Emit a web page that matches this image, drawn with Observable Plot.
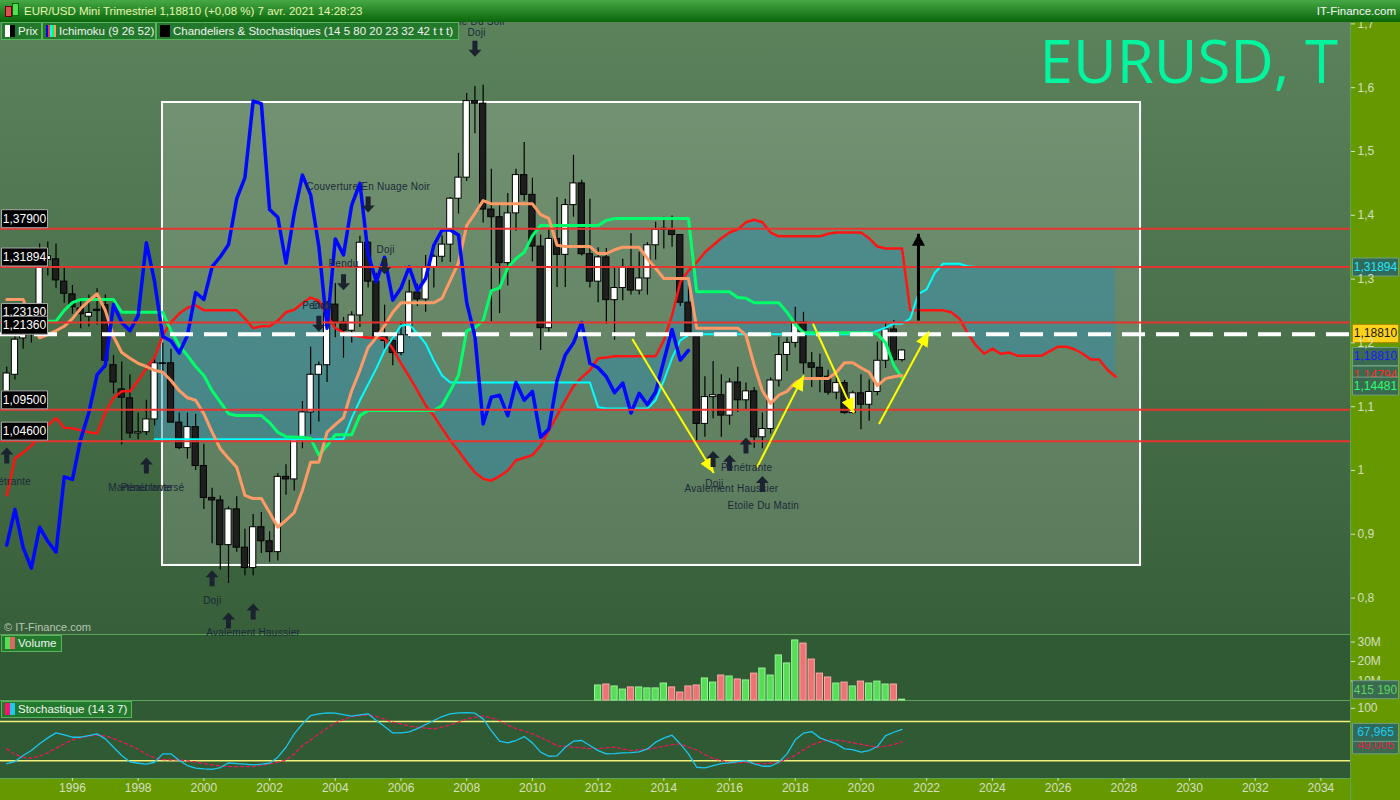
<!DOCTYPE html>
<html><head><meta charset="utf-8">
<script src="https://cdn.jsdelivr.net/npm/d3@7"></script>
<script src="https://cdn.jsdelivr.net/npm/@observablehq/plot@0.6"></script>
<style>
body{margin:0;background:#2f5a33;}
#wrap{position:relative;width:1400px;height:800px;overflow:hidden;font-family:"Liberation Sans",Arial,sans-serif;}
.abs{position:absolute;}
#mainbg{left:0;top:22px;width:1350px;height:612px;background:linear-gradient(#5c825c,#375f39);}
#volbg{left:0;top:634px;width:1350px;height:66px;background:#2f5a33;border-top:1px solid #5aa55a;box-sizing:border-box;}
#stbg{left:0;top:700px;width:1350px;height:78px;background:#2f5a33;border-top:1px solid #5aa55a;box-sizing:border-box;}
#rstrip{left:1350px;top:22px;width:50px;height:778px;background:#669900;border-left:1px solid #5aa55a;box-sizing:border-box;}
#bstrip{left:0;top:778px;width:1350px;height:22px;background:#669900;border-top:1px solid #5aa55a;box-sizing:border-box;}
#header{left:0;top:0;width:1400px;height:22px;background:linear-gradient(#45a845,#0a660a);color:#e6f5ae;font-size:11.5px;line-height:22px;}
.box{position:absolute;height:17px;background:#23792b;border:1px solid #5cb35f;box-sizing:border-box;color:#f2f2f2;font-size:11.5px;line-height:15px;white-space:nowrap;padding-left:3px;overflow:hidden;}
.ic{display:inline-block;width:5px;height:12px;vertical-align:-2px;}
#big{right:62px;top:30px;font-family:"Open Sans",sans-serif;font-size:60px;line-height:60px;color:#00f59e;white-space:nowrap;}
.plot{position:absolute;left:0;}
g[fill="#1c2839"] text{letter-spacing:0.25px;}
</style></head>
<body><div id="wrap">
<div id="mainbg" class="abs"></div>
<div id="volbg" class="abs"></div>
<div id="stbg" class="abs"></div>
<div id="rstrip" class="abs"></div>
<div id="bstrip" class="abs"></div>
<div id="big" class="abs">EURUSD, T</div>
<div id="main" class="plot" style="top:22px"></div>
<div id="vol" class="plot" style="top:634px"></div>
<div id="sto" class="plot" style="top:700px"></div>
<div id="header" class="abs">
  <span class="abs" style="left:5px;top:6px;width:5px;height:9px;background:#e05050;border:1px solid #600"></span>
  <span class="abs" style="left:12px;top:3px;width:5px;height:11px;background:#50e050;border:1px solid #060"></span>
  <span class="abs" style="left:24px;top:0">EUR/USD Mini Trimestriel 1,18810 (+0,08 %) 7 avr. 2021 14:28:23</span>
  <span class="abs" style="right:4px;top:0;color:#f5f5f5">IT-Finance.com</span>
</div>
<div class="box" style="left:1px;top:22px;width:41px;height:18px;line-height:16px"><span class="ic" style="background:#fff"></span><span class="ic" style="background:#000;margin-right:3px"></span>Prix</div>
<div class="box" style="left:42px;top:22px;width:114px;height:18px;line-height:16px"><span class="ic" style="width:2px;background:#00f"></span><span class="ic" style="width:2px;background:#f33"></span><span class="ic" style="width:2px;background:#0ff"></span><span class="ic" style="width:2px;background:#0f6"></span><span class="ic" style="width:2px;background:#f96;margin-right:3px"></span>Ichimoku (9 26 52)</div>
<div class="box" style="left:156px;top:22px;width:303px;height:18px;line-height:16px"><span class="ic" style="width:10px;background:#000;margin-right:3px"></span>Chandeliers &amp; Stochastiques (14 5 80 20 23 32 42 t t t)</div>
<div class="abs" style="left:4px;top:621px;color:#b8c6b4;font-size:11px">© IT-Finance.com</div>
<div class="box" style="left:1px;top:635px;width:61px"><span class="ic" style="background:#55dd55"></span><span class="ic" style="background:#e06666;margin-right:3px"></span>Volume</div>
<div class="box" style="left:1px;top:701px;width:131px"><span class="ic" style="background:#ff1070"></span><span class="ic" style="background:#20c8f0;margin-right:3px"></span>Stochastique (14 3 7)</div>
</div>
<script>
// ---------- DATA (quarterly, first quarter = 1994 Q1) ----------
const firstYear = 1994;
const open = [
1.122,1.150,1.207,1.216, 1.226,1.330,1.331,1.296, 1.276,1.254,1.241,1.252, 1.259,1.165,1.127,1.113,
1.058,1.060,1.080,1.168, 1.168,1.075,1.035,1.068, 1.007,0.957,0.953,0.883, 0.939,0.879,0.847,0.911,
0.889,0.872,0.990,0.986, 1.049,1.091,1.150,1.165, 1.260,1.232,1.219,1.243, 1.357,1.296,1.210,1.203,
1.184,1.212,1.279,1.268, 1.319,1.335,1.354,1.426, 1.459,1.579,1.575,1.409, 1.397,1.325,1.403,1.463,
1.432,1.351,1.223,1.363, 1.338,1.416,1.450,1.339, 1.296,1.334,1.267,1.286, 1.319,1.282,1.301,1.353,
1.377,1.377,1.369,1.263, 1.210,1.073,1.115,1.118, 1.086,1.138,1.110,1.124, 1.052,1.065,1.141,1.181,
1.200,1.232,1.168,1.161, 1.147,1.122,1.137,1.090, 1.121,1.103,1.123,1.172, 1.221,1.173];
const high = [
1.162,1.215,1.245,1.250, 1.355,1.358,1.355,1.318, 1.290,1.270,1.275,1.285, 1.275,1.180,1.170,1.150,
1.090,1.110,1.180,1.200, 1.190,1.090,1.090,1.088, 1.041,0.972,0.960,0.943, 0.959,0.908,0.931,0.934,
0.904,0.995,1.009,1.050, 1.108,1.193,1.170,1.265, 1.293,1.240,1.249,1.367, 1.359,1.309,1.259,1.215,
1.233,1.298,1.292,1.337, 1.338,1.368,1.428,1.497, 1.591,1.602,1.604,1.472, 1.415,1.434,1.472,1.514,
1.458,1.369,1.379,1.428, 1.425,1.494,1.455,1.425, 1.349,1.348,1.317,1.331, 1.371,1.342,1.357,1.389,
1.397,1.399,1.370,1.290, 1.210,1.147,1.171,1.150, 1.144,1.162,1.137,1.130, 1.090,1.145,1.209,1.208,
1.256,1.248,1.185,1.182, 1.157,1.145,1.141,1.124, 1.150,1.142,1.201,1.231, 1.235,1.189];
const low = [
1.112,1.142,1.190,1.200, 1.210,1.305,1.285,1.262, 1.245,1.222,1.225,1.228, 1.160,1.120,1.040,1.050,
1.048,1.055,1.070,1.150, 1.075,1.033,1.018,1.000, 0.939,0.885,0.844,0.823, 0.872,0.835,0.835,0.870,
0.856,0.858,0.961,0.968, 1.034,1.056,1.076,1.138, 1.208,1.176,1.200,1.224, 1.286,1.204,1.187,1.164,
1.180,1.208,1.257,1.248, 1.286,1.326,1.326,1.402, 1.453,1.528,1.388,1.233, 1.246,1.289,1.375,1.422,
1.327,1.188,1.217,1.287, 1.287,1.397,1.336,1.286, 1.263,1.229,1.204,1.266, 1.275,1.275,1.275,1.330,
1.347,1.350,1.257,1.210, 1.046,1.052,1.081,1.052, 1.071,1.091,1.095,1.035, 1.034,1.057,1.131,1.155,
1.192,1.151,1.130,1.122, 1.118,1.111,1.088,1.088, 1.064,1.077,1.117,1.160, 1.170,1.170];
const close = [
1.152,1.205,1.216,1.226, 1.330,1.336,1.298,1.277, 1.256,1.245,1.247,1.250, 1.172,1.138,1.114,1.058,
1.060,1.080,1.168,1.167, 1.075,1.035,1.068,1.007, 0.957,0.953,0.883,0.939, 0.879,0.847,0.911,0.889,
0.872,0.990,0.986,1.049, 1.091,1.150,1.165,1.260, 1.232,1.219,1.243,1.357, 1.296,1.210,1.203,1.184,
1.212,1.279,1.268,1.319, 1.335,1.354,1.426,1.459, 1.579,1.575,1.409,1.397, 1.325,1.403,1.463,1.432,
1.351,1.223,1.363,1.338, 1.416,1.450,1.339,1.296, 1.334,1.267,1.286,1.319, 1.282,1.301,1.353,1.377,
1.377,1.369,1.263,1.210, 1.073,1.115,1.118,1.086, 1.138,1.110,1.124,1.052, 1.065,1.141,1.181,1.200,
1.232,1.168,1.161,1.147, 1.122,1.137,1.090,1.121, 1.103,1.123,1.172,1.221, 1.173,1.1881];

// Ichimoku (9 26 52)
const tenkan = [
1.268,1.268,1.268,1.235,1.208,1.213,1.219,1.226,1.238,1.254,
1.266,1.277,1.251,1.210,1.185,1.176,1.168,1.163,1.157,1.154,
1.141,1.125,1.114,1.110,1.089,1.060,1.034,1.019,1.005,0.961,
0.956,0.956,0.934,0.911,0.922,0.934,0.969,1.013,1.013,1.060,
1.072,1.083,1.125,1.157,1.193,1.208,1.227,1.248,1.263,1.263,
1.263,1.263,1.263,1.270,1.298,1.326,1.384,1.403,1.423,1.418,
1.418,1.418,1.418,1.418,1.418,1.401,1.395,1.353,1.351,1.351,
1.351,1.351,1.340,1.340,1.346,1.350,1.350,1.350,1.332,1.317,
1.301,1.301,1.301,1.301,1.223,1.223,1.223,1.223,1.223,1.223,
1.212,1.165,1.125,1.105,1.118,1.124,1.138,1.144,1.144,1.144,
1.144,1.154,1.169,1.169,1.161,1.154,1.133,1.144,1.147,1.149];
const kijun = [
1.234,1.234,1.234,1.234,1.234,1.234,1.234,1.251,1.263,1.268,
1.268,1.268,1.268,1.268,1.248,1.248,1.248,1.248,1.248,1.248,
1.219,1.196,1.180,1.163,1.149,1.125,1.107,1.089,1.086,1.086,
1.086,1.086,1.075,1.060,1.053,1.052,1.052,1.050,1.024,1.039,
1.056,1.056,1.056,1.086,1.094,1.094,1.094,1.094,1.094,1.094,
1.094,1.094,1.094,1.102,1.125,1.149,1.219,1.224,1.235,1.282,
1.286,1.318,1.332,1.342,1.368,1.384,1.384,1.384,1.384,1.384,
1.384,1.384,1.384,1.392,1.395,1.395,1.395,1.395,1.395,1.395,
1.395,1.395,1.395,1.395,1.280,1.280,1.280,1.280,1.280,1.271,
1.270,1.263,1.263,1.263,1.263,1.248,1.229,1.216,1.216,1.216,
1.216,1.216,1.216,1.216,1.216,1.216,1.214,1.200,1.165,1.145];
const senkouA = [
0.961,1.019,1.028,1.039,1.055,1.071,1.082,1.067,1.066,1.063,
1.060,1.058,1.091,1.114,1.124,1.124,1.141,1.160,1.177,1.212,
1.232,1.246,1.255,1.259,1.251,1.251,1.251,1.251,1.251,1.238,
1.223,1.226,1.226,1.235,1.248,1.252,1.262,1.271,1.266,1.243,
1.223,1.216,1.212,1.210,1.208,1.208,1.207,1.191,1.168,1.147,
1.125,1.102,1.086,1.066,1.047,1.031,1.013,0.997,0.987,0.984,
0.991,1.000,1.016,1.020,1.024,1.039,1.063,1.086,1.110,1.132,
1.146,1.157,1.176,1.177,1.179,1.179,1.179,1.179,1.179,1.179,
1.204,1.243,1.295,1.313,1.326,1.342,1.353,1.364,1.373,1.378,
1.389,1.393,1.389,1.373,1.367,1.367,1.367,1.367,1.367,1.367,
1.371,1.373,1.373,1.373,1.373,1.364,1.351,1.348,1.348,1.348,
1.251,1.251,1.251,1.251,1.251,1.248,1.238,1.215,1.196,1.183,
1.191,1.183,1.185,1.180,1.180,1.180,1.180,1.187,1.194,1.194,
1.190,1.183,1.174,1.174,1.158,1.147];
const senkouBStart = 18; // first quarter index where Senkou B is visible
const senkouB = [
1.049,1.049,1.049,1.049,1.049,1.049,1.049,1.049,1.049,1.049,1.049,1.049,
1.049,1.049,1.049,1.049,1.049,1.049,1.049,1.049,1.049,1.049,1.049,1.049,
1.082,1.110,1.135,1.160,1.188,1.208,1.227,1.229,1.215,1.199,1.172,1.149,
1.138,1.138,1.138,1.138,1.138,1.138,1.138,1.138,1.138,1.138,1.138,1.138,1.138,1.138,1.138,1.138,1.138,1.138,
1.099,1.097,1.097,1.097,1.097,1.097,1.097,
1.110,1.141,1.176,1.204,1.212,1.213,
1.2135,1.2135,1.2135,1.2135,1.2135,1.2135,1.2135,1.2135,1.2135,1.2135,1.2135,
1.2135,1.2135,1.2135,1.2135,1.2135,1.2135,1.2135,1.2135,1.2135,1.2135,
1.219,1.224,1.230,1.230,1.238,1.277,1.284,1.310,1.324,1.324,1.324,1.320,
1.319,1.319,1.319,1.319,1.319,1.319,1.319,1.319,1.319,1.319,1.319,1.319,1.319,1.319,1.319,1.319,1.319,1.319];
const chikouLag = 26; // lagging span: closes drawn 26 quarters back

// Volume (millions), quarters 2012 Q1 .. 2021 Q2
const volumeStart = 72;
const volume = [
7.7,8.2,7.2,5.6,6.7,6.7,6.2,6.2,8.7,6.7,
4.1,7.2,7.7,11.3,9.2,12.8,12.3,10.8,10.3,13.8,
16.4,12.8,23.1,19.0,30.8,29.2,21.0,13.8,11.8,8.7,
9.2,7.2,9.7,8.7,9.7,8.2,8.2,0.415];

// Stochastic (14 3 7)
const stochK = [
15.8,18.9,28,35.7,45.9,55,62.6,59.6,56,56,
58.6,61.1,53.5,40.7,28,18.3,16.3,14.8,17.8,30.6,
30.6,20.4,12.8,8.7,7.7,7.1,9.7,16.8,15.8,14.8,
13.8,14.8,16.3,25.5,40.7,61.1,76.4,89.1,91.7,93.2,
92.7,90.6,88.1,90.1,91.7,81.5,72.3,62.6,62.6,64.2,
69.2,75.4,81.5,87.6,91.7,93.2,93.7,92.7,84,66.2,
49.9,47.4,51,57,47.4,33.2,27,27.5,40.7,49.9,
51,43.3,35.6,30.6,31.1,32.1,32.6,33.6,38.2,48.4,
54.5,59.1,45.8,30.6,10.2,9.2,12.7,15.8,16.8,18.9,
20.4,15.3,11.7,11.7,17.8,30.6,52,62.1,64.7,55,
50.4,45.8,38.2,37.2,33.2,35.7,41.8,58.6,63.6,67.965];
const stochD = [
38.2,29.5,25.5,24,27,32.6,39.2,45.8,52,55,
58,59.1,58,54,48.9,43.8,37.7,30,24.5,22,
21.4,21.4,19.9,18.3,15.8,13.8,12.3,11.2,11.2,11.2,
11.2,13.3,15.3,17.8,20.9,30.6,43.3,52,61.1,69.8,
77.9,83,87.6,89.1,90.1,87.6,83.5,78.9,76.4,73.3,
71.3,69.8,68.7,71.3,74.9,78.9,84,86.6,88.6,85.5,
81.5,74.3,69.2,65.7,61.1,55.5,49.9,42.8,42.3,40.7,
39.7,38.7,38.7,39.7,40.7,38.2,35.6,36.7,37.7,39.7,
42.3,44.8,45.8,40.7,36.7,29.5,23.4,20.4,17.3,16.8,
17.8,16.3,15.3,16.3,17.3,22.4,28.5,36.7,44.3,48.4,
52,51.4,49.9,47.4,45.3,42.8,40.7,42.3,44.8,49.005];

// Horizontal levels and labels
const levels = [1.379, 1.31894, 1.2319, 1.095, 1.046];
const levelTexts = ["1,37900","1,31894","1,23190","1,09500","1,04600"];
const dashLevel = 1.2136;
const dashText = "1,21360";
const priceTicks = [0.8,0.9,1,1.1,1.2,1.3,1.4,1.5,1.6,1.7];
const volumeTicks = [10e6,20e6,30e6];
const stochTicks = [100];
const stochBands = [80,20];
const yearTicks = [1996,1998,2000,2002,2004,2006,2008,2010,2012,2014,2016,2018,2020,2022,2024,2026,2028,2030,2032,2034];

// Right-axis value tags
const tagValues = [1.14794, 1.14481, 1.1881, 1.1881, 1.31894];
const tagTexts = ["1,14794","1,14481","1,18810","1,18810","1,31894"];
const volTag = [415190], volTagText = ["415 190"];
const stochTagValues = [49.005, 67.965], stochTagTexts = ["49,005","67,965"];

// Drawing annotations (time in years, price)
const zoneT = [1998.74, 2028.51], zoneP = [0.8511, 1.5768];
const yellowFromT = [2013.04, 2016.84, 2018.54, 2020.55];
const yellowFromP = [1.206, 1.005, 1.230, 1.073];
const yellowToT = [2015.52, 2018.26, 2019.78, 2022.07];
const yellowToP = [0.996, 1.149, 1.090, 1.218];
const blackArrowT = 2021.75, blackArrowP = [1.235, 1.371];
const upT = [1994.0, 1998.25, 2000.25, 2000.75, 2001.5, 2015.5, 2016.0, 2016.5, 2017.0];
const upP = [1.0235, 1.008, 0.831, 0.765, 0.779, 1.018, 1.012, 1.039, 0.979];
const downT = [2008.25, 2005.0, 2005.5, 2004.25, 2003.5];
const downP = [1.661, 1.417, 1.320, 1.295, 1.230];
const patternTexts = ["Etoile Du Soir","Doji","Couverture En Nuage Noir","Doji","Pendu","Pendu","Doji",
  "Pénétrante","Marteau Inversé","Pénétrante","Doji","Avalement Haussier",
  "Pénétrante","Doji","Avalement Haussier","Etoile Du Matin"];
const patternT = [2008.2,2008.3,2005.0,2005.53,2004.25,2003.45,2003.58,1993.96,1998.25,1998.25,2000.26,2001.5,2016.52,2015.54,2016.06,2017.03];
const patternP = [1.703,1.686,1.445,1.346,1.324,1.2586,1.2586,0.983,0.973,0.973,0.796,0.745,1.0036,0.9796,0.972,0.944];

// ---------- BUILD ----------
const tq = i => firstYear + i * 0.25;
const candles = open.map((o, i) => ({t: tq(i), o, h: high[i], l: low[i], c: close[i]}));
const upC = candles.filter(d => d.c >= d.o), dnC = candles.filter(d => d.c < d.o);
const series = (arr, start = 0) => arr.map((v, i) => ({t: tq(i + start), v}));
const tenkanD = series(tenkan), kijunD = series(kijun), saD = series(senkouA);
const sbD = series(senkouB, senkouBStart);
const chikouD = series(close.slice(chikouLag));
const cloud = sbD.map(d => ({t: d.t, a: senkouA[Math.round((d.t - firstYear) * 4)], b: d.v}));
const volD = volume.map((v, i) => ({t: tq(i + volumeStart), v: v * 1e6, up: close[i + volumeStart] >= open[i + volumeStart]}));
const xDomain = [1993.81, 2034.9];
const HW = 0.095; // half body width in years
const fmtC = d => String(d).replace(".", ",");
const axisColor = "#d3dec4";
const FONT = "Liberation Sans";

function tri(fill, len, wid) {
  return () => {
    const ns = "http://www.w3.org/2000/svg";
    const m = document.createElementNS(ns, "marker");
    m.setAttribute("viewBox", `${-len} ${-wid/2} ${len} ${wid}`);
    m.setAttribute("markerWidth", len); m.setAttribute("markerHeight", wid);
    m.setAttribute("markerUnits", "userSpaceOnUse");
    m.setAttribute("refX", 0); m.setAttribute("refY", 0);
    m.setAttribute("orient", "auto");
    const p = document.createElementNS(ns, "path");
    p.setAttribute("d", `M${-len},${-wid/2}L0,0L${-len},${wid/2}Z`);
    p.setAttribute("fill", fill); p.setAttribute("stroke", "none");
    m.appendChild(p);
    return m;
  };
}
const upSym = {draw(c){c.moveTo(0,-8);c.lineTo(6.5,-1);c.lineTo(2.5,-1);c.lineTo(2.5,8);c.lineTo(-2.5,8);c.lineTo(-2.5,-1);c.lineTo(-6.5,-1);c.closePath();}};
const downSym = {draw(c){c.moveTo(0,8);c.lineTo(6.5,1);c.lineTo(2.5,1);c.lineTo(2.5,-8);c.lineTo(-2.5,-8);c.lineTo(-2.5,1);c.lineTo(-6.5,1);c.closePath();}};
function tag(values, texts, {anchor, dx, dy = 0, w = 46, h = 18, fill, stroke, color, fontSize = 12}) {
  const data = values.map((v, i) => ({v, s: texts[i]}));
  const sym = {draw(c){c.rect(-w/2, -h/2, w, h);}};
  return [
    Plot.dot(data, {y: "v", frameAnchor: anchor, dx, dy, r: 5, symbol: sym, fill, stroke, strokeWidth: 1}),
    Plot.text(data, {y: "v", text: "s", frameAnchor: anchor, textAnchor: "middle", dx, dy, fill: color, fontSize})
  ];
}
const base = {width: 1400, marginLeft: 0, marginRight: 50, marginTop: 0,
  style: {background: "transparent", overflow: "visible", fontFamily: FONT}};

const tagStyle = [
  {dy: -1, fill: "#3a6a50", stroke: "#6f9f80", color: "#ff2a2a"},
  {dy: 8, fill: "#3a6a50", stroke: "#6f9f80", color: "#2eff6e"},
  {dy: 6, fill: "#3a6a50", stroke: "#6f9f80", color: "#1a1aff"},
  {dy: -17, fill: "#ffd21a", stroke: "#b08a00", color: "#1a1a1a"},
  {dy: 0, fill: "#2f6a5a", stroke: "#6f9f80", color: "#22e6ff"}
];

const main = Plot.plot({...base, height: 612, marginBottom: 0,
  x: {domain: xDomain, axis: null},
  y: {domain: [0.7429, 1.7022], axis: null},
  marks: [
    Plot.rect([0], {x1: () => zoneT[0], x2: () => zoneT[1], y1: () => zoneP[0], y2: () => zoneP[1], fill: "#fff", fillOpacity: 0.16, stroke: "#fff", strokeWidth: 2}),
    Plot.areaY(cloud, {x: "t", y1: "a", y2: "b", fill: "#2a8cb4", fillOpacity: 0.45}),
    Plot.ruleX(candles, {x: "t", y1: "l", y2: "h", stroke: "#000", strokeWidth: 1.2}),
    Plot.rect(upC, {x1: d => d.t - HW, x2: d => d.t + HW, y1: "o", y2: d => Math.abs(d.c - d.o) < 0.002 ? d.o + 0.002 : d.c, fill: "#fff", stroke: "#000", strokeWidth: 1}),
    Plot.rect(dnC, {x1: d => d.t - HW, x2: d => d.t + HW, y1: "o", y2: "c", fill: "#1e1e1e", stroke: "#000", strokeWidth: 1}),
    Plot.line(saD, {x: "t", y: "v", stroke: "#ff1414", strokeWidth: 2.5}),
    Plot.line(sbD, {x: "t", y: "v", stroke: "#00ffff", strokeWidth: 2}),
    Plot.line(kijunD, {x: "t", y: "v", stroke: "#00ff6a", strokeWidth: 3}),
    Plot.line(tenkanD, {x: "t", y: "v", stroke: "#ff9a66", strokeWidth: 3}),
    Plot.line(chikouD, {x: "t", y: "v", stroke: "#0008ff", strokeWidth: 3.5}),
    Plot.ruleY(levels, {stroke: "#e8342f", strokeWidth: 2}),
    Plot.ruleY([dashLevel], {stroke: "#fff", strokeWidth: 4, strokeDasharray: "23 11"}),
    Plot.link(yellowFromT, {x1: (d, i) => yellowFromT[i], y1: (d, i) => yellowFromP[i], x2: (d, i) => yellowToT[i], y2: (d, i) => yellowToP[i], stroke: "#ffff00", strokeWidth: 2, markerEnd: tri("#ffff00", 15, 13)}),
    Plot.link([0], {x1: () => blackArrowT, x2: () => blackArrowT, y1: () => blackArrowP[0], y2: () => blackArrowP[1], stroke: "#000", strokeWidth: 3, markerEnd: tri("#000", 12, 13)}),
    Plot.dot(upT, {x: d => d, y: (d, i) => upP[i], r: 5, symbol: upSym, fill: "#1b2230", stroke: "none"}),
    Plot.dot(downT, {x: d => d, y: (d, i) => downP[i], r: 5, symbol: downSym, fill: "#1b2230", stroke: "none"}),
    Plot.text(patternTexts, {x: (d, i) => patternT[i], y: (d, i) => patternP[i], text: d => d, fill: "#1c2839", fontSize: 10}),
    ...tag([levels[0], levels[1], levels[2]], [levelTexts[0], levelTexts[1], levelTexts[2]], {anchor: "left", dx: 24, dy: -10, fill: "#000", stroke: "#a8a8a8", color: "#fff"}),
    ...tag([dashLevel], [dashText], {anchor: "left", dx: 24, dy: -9, fill: "#000", stroke: "#a8a8a8", color: "#fff"}),
    ...tag([levels[3], levels[4]], [levelTexts[3], levelTexts[4]], {anchor: "left", dx: 24, dy: -10, fill: "#000", stroke: "#a8a8a8", color: "#fff"}),
    ...tagValues.flatMap((v, i) => tag([v], [tagTexts[i]], {anchor: "right", dx: 25, ...tagStyle[i]})),
    Plot.axisY({anchor: "right", label: null, ticks: priceTicks, tickFormat: fmtC, tickSize: 4, tickPadding: 3, fontSize: 12, color: axisColor})
  ]
});
document.getElementById("main").appendChild(main);

const vol = Plot.plot({...base, height: 66, marginBottom: 0,
  x: {domain: xDomain, axis: null},
  y: {domain: [0, 33.85e6], axis: null},
  marks: [
    Plot.rect(volD.filter(d => d.up), {x1: d => d.t - HW, x2: d => d.t + HW, y1: 0, y2: "v", fill: "#58dd58", stroke: "#95f795", strokeWidth: 1}),
    Plot.rect(volD.filter(d => !d.up), {x1: d => d.t - HW, x2: d => d.t + HW, y1: 0, y2: "v", fill: "#ec7474", stroke: "#ffabab", strokeWidth: 1}),
    Plot.axisY({anchor: "right", label: null, ticks: volumeTicks, tickFormat: d => d / 1e6 + "M", tickSize: 4, tickPadding: 3, fontSize: 12, color: axisColor}),
    ...tag(volTag, volTagText, {anchor: "right", dx: 25, dy: -10, fill: "#3a6a50", stroke: "#6f9f80", color: "#5ad65a"})
  ]
});
document.getElementById("vol").appendChild(vol);

const sto = Plot.plot({...base, height: 100, marginBottom: 22,
  x: {domain: xDomain, axis: null},
  y: {domain: [-7.0, 112.06], axis: null},
  marks: [
    Plot.ruleY(stochBands, {stroke: "#f2f27a", strokeWidth: 1.5}),
    Plot.line(stochD, {x: (d, i) => tq(i), y: d => d, stroke: "#e8185c", strokeWidth: 1.3, strokeDasharray: "3 3"}),
    Plot.line(stochK, {x: (d, i) => tq(i), y: d => d, stroke: "#1cc6f0", strokeWidth: 1.3}),
    Plot.axisY({anchor: "right", label: null, ticks: stochTicks, tickFormat: d => d, tickSize: 4, tickPadding: 3, fontSize: 12, color: axisColor}),
    Plot.axisX({anchor: "bottom", label: null, ticks: yearTicks, tickFormat: d => String(d), tickSize: 3, tickPadding: 2, fontSize: 12, color: axisColor}),
    ...tag([stochTagValues[0]], [stochTagTexts[0]], {anchor: "right", dx: 25, dy: 3, fill: "#3a6a50", stroke: "#6f9f80", color: "#e8204f"}),
    ...tag([stochTagValues[1]], [stochTagTexts[1]], {anchor: "right", dx: 25, dy: 3, fill: "#2f6a5a", stroke: "#6f9f80", color: "#1ec8f0"})
  ]
});
document.getElementById("sto").appendChild(sto);
</script>
</body></html>
